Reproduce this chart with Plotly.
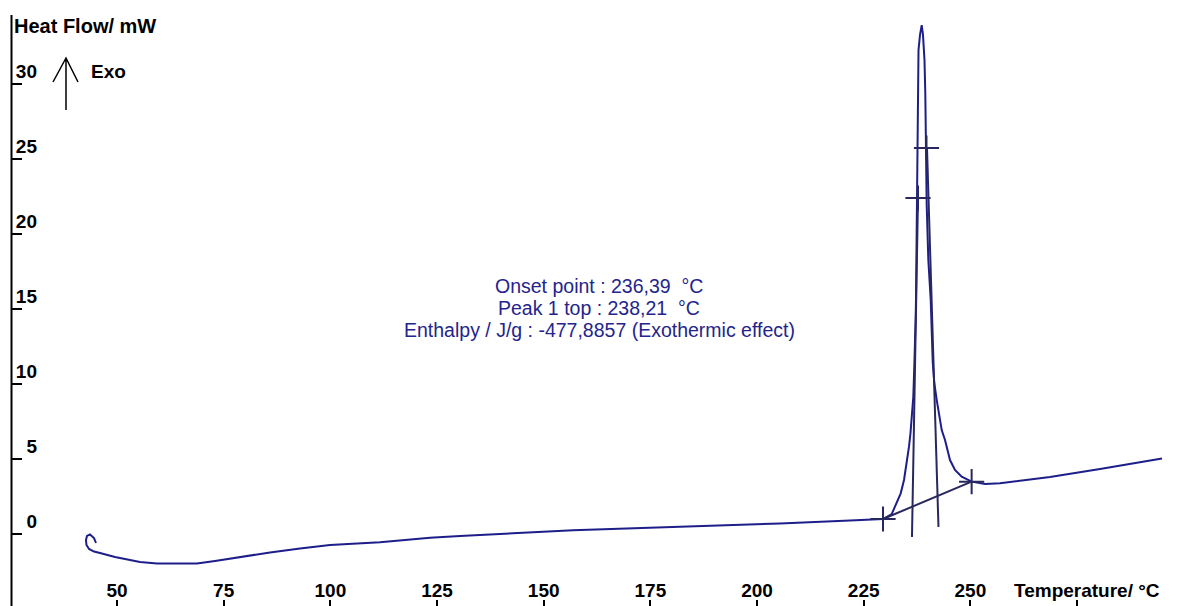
import plotly.graph_objects as go

# ---- data ----
temp_c = [45.08, 44.61, 43.67, 42.97, 42.73, 42.85, 43.44, 44.61, 46.02, 49.53, 53.05, 55.39,
          59.38, 63.59, 68.75, 72.97, 80.0, 85.86, 92.89, 99.92, 111.64, 117.5, 123.36, 130.39,
          138.12, 147.5, 156.88, 167.19, 186.64, 205.39, 221.8, 226.48, 229.53, 231.57, 232.74,
          233.68, 234.45, 235.08, 235.62, 235.97, 236.26, 236.63, 236.86, 237.03, 237.19, 237.26,
          237.38, 237.5, 237.73, 237.85, 238.2, 238.6, 238.9, 239.25, 239.44, 239.56, 239.77,
          240.15, 240.71, 241.18, 241.55, 242.12, 242.65, 243.29, 244.06, 244.6, 245.23, 246.4,
          247.97, 250.3, 253.44, 256.95, 268.67, 280.4, 294.92]
heat_flow_mw = [-0.6, -0.27, -0.03, -0.13, -0.4, -0.73, -1.0, -1.17, -1.27, -1.53, -1.73, -1.87,
                -1.97, -1.97, -1.97, -1.8, -1.47, -1.23, -0.97, -0.73, -0.55, -0.4, -0.25, -0.13,
                0.0, 0.11, 0.25, 0.35, 0.5, 0.7, 0.9, 0.98, 1.0, 1.33, 2.05,
                2.71, 3.6, 4.71, 5.82, 6.73, 8.07, 9.15, 11.15, 12.27, 14.49, 15.6,
                20.27, 25.6, 28.93, 32.27, 33.27, 33.93, 33.27, 31.6, 29.4, 25.6, 21.93,
                18.27, 15.6, 11.47, 10.07, 8.93, 7.93, 6.93, 6.27, 5.6, 4.93, 4.27,
                3.82, 3.49, 3.33, 3.38, 3.8, 4.33, 5.03]

baseline_t = [229.53, 250.3]
baseline_v = [1.0, 3.49]
left_tangent_t = [236.32, 237.73]
left_tangent_v = [-0.2, 22.4]
right_tangent_t = [242.53, 239.84]
right_tangent_v = [0.47, 25.73]
cross_t = [229.53, 250.3, 237.73, 239.72]
cross_v = [1.0, 3.49, 22.4, 25.73]

x_ticks = [50, 75, 100, 125, 150, 175, 200, 225, 250, 275]
x_ticktext = ["50", "75", "100", "125", "150", "175", "200", "225", "250", ""]
y_ticks = [0, 5, 10, 15, 20, 25, 30]

result_lines = ["Onset point : 236,39  °C",
                "Peak 1 top : 238,21  °C",
                "Enthalpy / J/g : -477,8857 (Exothermic effect)"]

W, H = 1179, 606
Y_RANGE = [-4.8, 35.6]
FONT = "Liberation Sans, Arial, sans-serif"
CURVE = "#1e1e8a"
TANG = "#28285e"

fig = go.Figure()
fig.add_trace(go.Scatter(x=temp_c, y=heat_flow_mw, mode="lines",
                         line=dict(color=CURVE, width=2), yaxis="y", hoverinfo="skip"))
for tx, ty in [(baseline_t, baseline_v), (left_tangent_t, left_tangent_v),
               (right_tangent_t, right_tangent_v)]:
    fig.add_trace(go.Scatter(x=tx, y=ty, mode="lines", line=dict(color=TANG, width=2),
                             yaxis="y2", hoverinfo="skip"))
fig.add_trace(go.Scatter(x=cross_t, y=cross_v, mode="markers", yaxis="y2",
                         marker=dict(symbol="cross-thin", size=18,
                                     line=dict(color=TANG, width=2)), hoverinfo="skip"))

fig.update_layout(
    width=W, height=H, margin=dict(l=0, r=0, t=0, b=0),
    paper_bgcolor="white", plot_bgcolor="white", showlegend=False,
    font=dict(family=FONT, color="black"),
    xaxis=dict(range=[22.58, 298.9], domain=[0, 1], tickvals=x_ticks, ticktext=x_ticktext,
               ticks="inside", ticklen=6, tickwidth=1.5, tickcolor="black",
               ticklabelposition="inside", showline=False, showgrid=False, zeroline=False,
               tickfont=dict(family=FONT, size=19, color="black", weight="bold")),
    yaxis=dict(range=Y_RANGE, domain=[0, 1], anchor="free", position=37 / W,
               tickvals=y_ticks, ticks="", showline=False, showgrid=False, zeroline=False,
               ticklabelshift=-13, ticklabelstandoff=0,
               tickfont=dict(family=FONT, size=19, color="black", weight="bold")),
    yaxis2=dict(range=Y_RANGE, overlaying="y", anchor="free",
                position=11 / W, side="left", tickvals=y_ticks, ticks="inside", ticklen=10,
                tickwidth=1.5, tickcolor="black", showticklabels=False, showline=False,
                showgrid=False, zeroline=False),
)

def px(x):
    return x / W

def py(y):
    return 1 - y / H

# vertical axis line (starts a little below the top edge, like the original)
fig.add_shape(type="line", xref="paper", yref="paper", x0=px(11.5), x1=px(11.5),
              y0=py(15), y1=0, line=dict(color="black", width=2))

fig.add_annotation(text="<b>Heat Flow/ mW</b>", xref="paper", yref="paper", x=px(12), y=py(26),
                   xanchor="left", yanchor="middle", showarrow=False,
                   font=dict(family=FONT, size=20, color="black"))
fig.add_annotation(text="<b>Exo</b>", xref="paper", yref="paper", x=px(89), y=py(71),
                   xanchor="left", yanchor="middle", showarrow=False,
                   font=dict(family=FONT, size=19, color="black"))
fig.add_annotation(text="<b>Temperature/ °C</b>", xref="x", yref="paper", x=275, xshift=10,
                   y=py(590), xanchor="center", yanchor="middle", showarrow=False,
                   font=dict(family=FONT, size=19, color="black"))

arrow_path = (f"M {px(66)},{py(110)} L {px(66)},{py(58)} "
              f"M {px(53)},{py(82)} L {px(66)},{py(58)} L {px(78)},{py(82)}")
fig.add_shape(type="path", xref="paper", yref="paper", path=arrow_path,
              line=dict(color="black", width=1.5))

for line, yc in zip(result_lines, [286, 308, 330]):
    fig.add_annotation(text=line, xref="paper", yref="paper", x=px(599), y=py(yc),
                       xanchor="center", yanchor="middle", showarrow=False,
                       font=dict(family=FONT, size=19.5, color="#24248c"))

fig.write_html("out.html")
